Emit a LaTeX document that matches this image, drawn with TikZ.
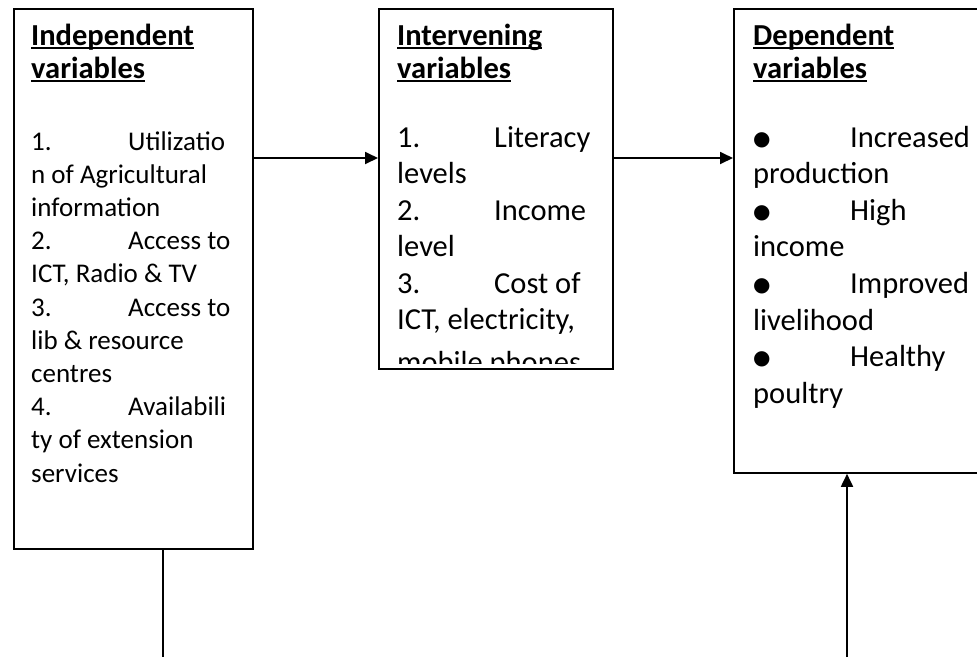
\documentclass[tikz,border=0pt]{standalone}
\usepackage{fontspec}
\setmainfont{Carlito}
\newfontfamily\dejavu{DejaVu Sans}
\usetikzlibrary{arrows.meta}
\newcommand\myul[1]{\setbox0\hbox{#1}\rlap{\rule[-3.5pt]{\wd0}{1.6pt}}\box0}
\newcommand\tabbed[2]{\makebox[97pt][l]{#1}#2}
\newcommand\blt{\raisebox{2pt}{\dejavu\fontsize{20}{20}\selectfont ●}}
\tikzset{
 box/.style={draw, line width=1.8pt, rectangle, anchor=north west, inner sep=0pt},
 head/.style={anchor=base west, inner sep=0pt, font=\fontsize{30.5}{36}\selectfont\bfseries},
 bodyL/.style={anchor=base west, inner sep=0pt, font=\fontsize{27}{33}\selectfont},
 bodyR/.style={anchor=base west, inner sep=0pt, font=\fontsize{30.5}{36}\selectfont},
 arr/.style={line width=1.8pt, -{Triangle[length=13pt,width=12pt]}},
 conn/.style={line width=1.8pt},
}
\begin{document}
\begin{tikzpicture}[x=1pt,y=-1pt]
\useasboundingbox (0,0) rectangle (977,657);
% boxes
\node[box, minimum width=239pt, minimum height=540pt] (indep) at (13,8) {};
\node[box, minimum width=234pt, minimum height=360pt] (inter) at (378,8) {};
\node[box, minimum width=270pt, minimum height=464pt] (dep) at (733,8) {};
% left box text
\node[head] (h1a) at (31,45) {\myul{Independent}};
\node[head] (h1b) at (31,78) {\myul{variables}};
\node[bodyL] (l1) at (31,150) {\tabbed{1.}{Utilizatio}};
\node[bodyL] (l2) at (31,183.2) {n of Agricultural};
\node[bodyL] (l3) at (31,216.4) {information};
\node[bodyL] (l4) at (31,249.6) {\tabbed{2.}{Access to}};
\node[bodyL] (l5) at (31,282.8) {ICT, Radio \& TV};
\node[bodyL] (l6) at (31,316) {\tabbed{3.}{Access to}};
\node[bodyL] (l7) at (31,349.2) {lib \& resource};
\node[bodyL] (l8) at (31,382.4) {centres};
\node[bodyL] (l9) at (31,415.6) {\tabbed{4.}{Availabili}};
\node[bodyL] (l10) at (31,448.8) {ty of extension};
\node[bodyL] (l11) at (31,482) {services};
% middle box text
\begin{scope}
\clip (379,9) rectangle (611,363);
\node[head] (h2a) at (397,45) {\myul{Intervening}};
\node[head] (h2b) at (397,78) {\myul{variables}};
\node[bodyR] (m1) at (397,147) {\tabbed{1.}{Literacy}};
\node[bodyR] (m2) at (397,183.6) {levels};
\node[bodyR] (m3) at (397,220.2) {\tabbed{2.}{Income}};
\node[bodyR] (m4) at (397,256.8) {level};
\node[bodyR] (m5) at (397,293.4) {\tabbed{3.}{Cost of}};
\node[bodyR] (m6) at (397,329) {ICT, electricity,};
\node[bodyR] (m7) at (397,372) {mobile phones};
\end{scope}
% right box text
\node[head] (h3a) at (753,45) {\myul{Dependent}};
\node[head] (h3b) at (753,78) {\myul{variables}};
\node[bodyR] (r1) at (753,147) {\tabbed{\blt}{Increased}};
\node[bodyR] (r2) at (753,183.6) {production};
\node[bodyR] (r3) at (753,220.2) {\tabbed{\blt}{High}};
\node[bodyR] (r4) at (753,256.8) {income};
\node[bodyR] (r5) at (753,293.4) {\tabbed{\blt}{Improved}};
\node[bodyR] (r6) at (753,330) {livelihood};
\node[bodyR] (r7) at (753,366.6) {\tabbed{\blt}{Healthy}};
\node[bodyR] (r8) at (753,403.2) {poultry};
% connectors
\coordinate (ay) at (0,158);
\draw[arr] (indep.east |- ay) -- (inter.west |- ay);
\draw[arr] (inter.east |- ay) -- (dep.west |- ay);
\coordinate (bot1) at (163,657);
\coordinate (bot2) at (847,657);
\draw[conn] (indep.south -| bot1) -- (bot1);
\draw[arr] (bot2) -- (dep.south -| bot2);
\end{tikzpicture}
\end{document}
